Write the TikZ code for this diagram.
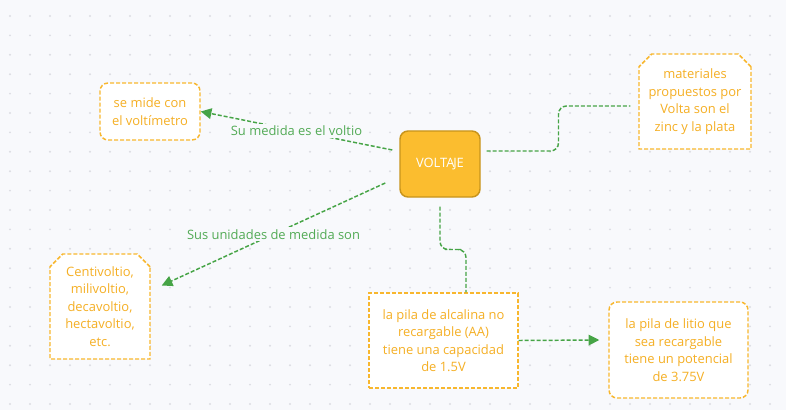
\documentclass[tikz,border=0pt]{standalone}
\usepackage{fontspec}
\setmainfont{Open Sans}
\usetikzlibrary{calc,shapes.misc,arrows.meta}
\definecolor{bgc}{HTML}{F8F9FC}
\definecolor{dotc}{HTML}{DCDDE3}
\definecolor{boxc}{HTML}{F8B72E}
\definecolor{boxt}{HTML}{F5AF24}
\definecolor{linkc}{HTML}{46A446}
\definecolor{labc}{HTML}{52AA55}
\definecolor{mainc}{HTML}{FBBD2F}
\definecolor{mainb}{HTML}{C8941C}

\begin{document}
\begin{tikzpicture}[x=0.75pt,y=-0.75pt,
    every node/.style={font=\fontsize{9.7}{13.1}\selectfont},
    idea/.style={draw=boxc,dash pattern=on 3pt off 1.5pt,line width=1.1pt,
      fill=white,text=boxt,align=center,inner sep=0pt},
    link/.style={draw=linkc,dash pattern=on 3pt off 1.5pt,line width=1.1pt},
    tip/.style={-{Triangle[length=8pt,width=8pt]}},
    lab/.style={fill=bgc,text=labc,inner sep=1.5pt}]
  % page and dotted grid
  \fill[bgc] (0,0) rectangle (786,410);
  \useasboundingbox (0,0) rectangle (786,410);
  \foreach \i in {0,...,38}
    \foreach \j in {0,...,20}
      \fill[dotc] (10+20*\i,16+19.4*\j) circle[radius=0.8pt];

  \node[draw=mainb,fill=mainc,text=white,line width=1.1pt,rounded corners=6pt,
        minimum width=60pt,minimum height=49.5pt] (voltaje) at (440,164) {VOLTA\kern-1pt JE};
  \node[idea,rounded corners=6pt,minimum width=75pt,minimum height=42.75pt]
        (mide) at (150,111.5) {se mide con\\el voltímetro};
  \node[idea,chamfered rectangle,chamfered rectangle corners={north west,north east},
        chamfered rectangle xsep=6pt,minimum width=84pt,minimum height=71.25pt]
        (materiales) at (695,101.5) {materiales\\propuestos por\\Volta son el\\zinc y la plata};
  \node[idea,chamfered rectangle,chamfered rectangle corners={north west,north east},
        chamfered rectangle xsep=6pt,minimum width=75pt,minimum height=78.75pt]
        (unidades) at (100,306.5) {Centivoltio,\\milivoltio,\\decavoltio,\\hectavoltio,\\etc.};
  \node[idea,minimum width=111.75pt,minimum height=71.25pt]
        (alcalina) at (443.5,340.5) {la pila de alcalina no\\recargable (AA)\\tiene una capacidad\\de 1.5V};
  \node[idea,rounded corners=6pt,minimum width=104.25pt,minimum height=72pt]
        (litio) at (678.5,350) {la pila de litio que\\sea recargable\\tiene un potencial\\de 3.75V};

  % free ends of the connectors
  \coordinate (v1) at ($(voltaje.west)+(-7,-14)$);
  \coordinate (v2) at ($(voltaje.west)+(-14,19)$);
  \coordinate (v3) at ($(voltaje.east)+(6,-13)$);
  \coordinate (v4) at ($(voltaje.south)+(0,9)$);
  \coordinate (u1) at ($(unidades.east)+(11,-21)$);
  \coordinate (m1) at ($(materiales.west)+(-8,4.5)$);
  \coordinate (a1) at ($(alcalina.north)+(22.5,0)$);
  \coordinate (l1) at ($(litio.west)+(-9,-10)$);

  \draw[link,tip] (v1) -- node[lab]{Su medida es el voltio} (mide.east);
  \draw[link,tip] (v2) -- node[lab]{Sus unidades de medida son} (u1);
  \draw[link,rounded corners=6pt] (v3) -| ($(v3)!0.5!(m1)$) |- (m1);
  \draw[link,rounded corners=6pt] (v4) |- ($(v4)!0.5!(a1)$) -| (a1);
  \draw[link,tip] (alcalina.east) -- (l1);
\end{tikzpicture}
\end{document}
